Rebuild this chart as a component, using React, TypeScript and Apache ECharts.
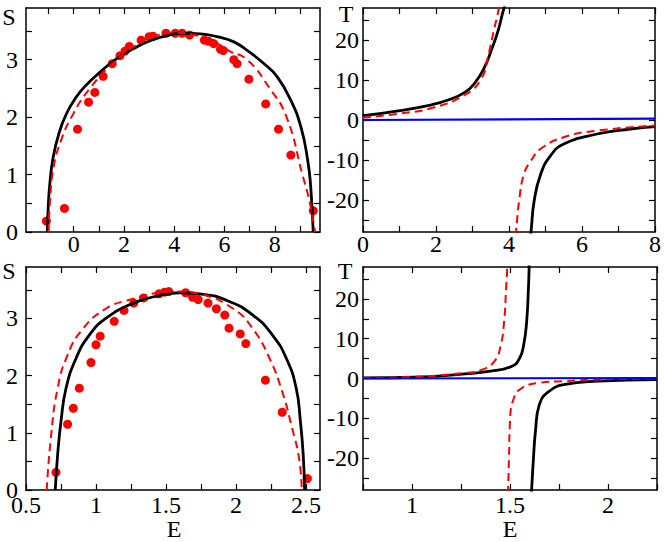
import React, { useEffect, useRef } from "react";
import * as echarts from "echarts";

// ---------- Tick / label values ----------
const tlTicksX = [-1, 0, 1, 2, 3, 4, 5, 6, 7, 8, 9];
const tlLabelsX = [0, 2, 4, 6, 8];
const sTicksY = [0, 0.5, 1, 1.5, 2, 2.5, 3, 3.5];
const sLabelsY = [0, 1, 2, 3];
const trTicksX = [0, 1, 2, 3, 4, 5, 6, 7, 8];
const trLabelsX = [0, 2, 4, 6, 8];
const tTicksY = [-25, -20, -15, -10, -5, 0, 5, 10, 15, 20, 25];
const tLabelsY = [-20, -10, 0, 10, 20];
const blTicksX = [0.5, 0.75, 1, 1.25, 1.5, 1.75, 2, 2.25, 2.5];
const blLabelsX = [0.5, 1, 1.5, 2, 2.5];
const brTicksX = [0.75, 1, 1.25, 1.5, 1.75, 2, 2.25];
const brLabelsX = [1, 1.5, 2];

// ---------- Top-left: S(E) ----------
const tlBlackE = [-1.05, -1.02, -0.95, -0.82, -0.6, -0.3, 0.1, 0.5, 1.04, 1.71, 2.37, 3.04, 3.71, 4.3, 5.04, 5.7, 6.37, 7.0, 7.6, 8.1, 8.64, 9.04, 9.31, 9.43, 9.53];
const tlBlackS = [0, 0.4, 0.85, 1.3, 1.7, 2.05, 2.35, 2.56, 2.78, 3.02, 3.19, 3.33, 3.42, 3.46, 3.45, 3.4, 3.31, 3.13, 2.92, 2.7, 2.29, 1.83, 1.25, 0.79, 0];
const tlRedE = [-1.0, -0.95, -0.8, -0.5, -0.09, 0.64, 1.71, 2.6, 3.3, 4.0, 4.7, 5.5, 6.2, 6.9, 7.8, 8.47, 9.1, 9.4, 9.6];
const tlRedS = [0, 0.5, 1.13, 1.6, 2.0, 2.5, 3.0, 3.28, 3.42, 3.47, 3.44, 3.33, 3.15, 3.0, 2.5, 2.0, 1.0, 0.5, 0];
const tlDotE = [-1.09, -0.37, 0.15, 0.59, 0.84, 1.17, 1.53, 1.84, 2.04, 2.21, 2.68, 3.0, 3.15, 3.67, 4.04, 4.31, 4.61, 5.2, 5.37, 5.57, 5.84, 5.95, 6.37, 6.5, 6.97, 7.64, 8.15, 8.64, 9.53];
const tlDotS = [0.19, 0.41, 1.79, 2.26, 2.43, 2.71, 2.93, 3.07, 3.15, 3.23, 3.34, 3.4, 3.41, 3.46, 3.46, 3.46, 3.43, 3.34, 3.32, 3.28, 3.18, 3.16, 3.0, 2.93, 2.66, 2.23, 1.79, 1.34, 0.37];

// ---------- Top-right: T(E) ----------
const trBlackUpE = [0, 0.97, 1.88, 2.33, 2.79, 3.06, 3.33, 3.51, 3.7, 3.83, 3.9];
const trBlackUpT = [1.07, 2.3, 3.8, 5.0, 6.9, 9.2, 13.2, 17.3, 22.3, 26.9, 29];
const trRedUpE = [0, 1.0, 1.88, 2.79, 3.24, 3.42, 3.6, 3.7, 3.73];
const trRedUpT = [0.6, 1.6, 2.98, 6.3, 10.3, 15.7, 23, 26.9, 29];
const trBlackLoE = [4.58, 4.6, 4.69, 4.87, 5.14, 5.5, 6.41, 7.32, 8];
const trBlackLoT = [-29, -28.2, -20.2, -13.5, -8.9, -6.0, -3.5, -2.25, -1.67];
const trRedLoE = [4.17, 4.19, 4.28, 4.41, 4.6, 4.87, 5.5, 6.41, 8];
const trRedLoT = [-29, -28, -20, -13.5, -10.2, -7.2, -4.3, -2.67, -1.4];
const trBlueE = [0, 8];
const trBlueT = [0.0, 0.33];

// ---------- Bottom-left: S(E) ----------
const blBlackE = [0.709, 0.726, 0.75, 0.786, 0.857, 0.952, 1.07, 1.26, 1.45, 1.6, 1.74, 1.93, 2.12, 2.26, 2.36, 2.43, 2.46, 2.48, 2.49];
const blBlackS = [0, 0.62, 1.2, 1.78, 2.3, 2.71, 3.0, 3.26, 3.4, 3.45, 3.43, 3.32, 3.06, 2.71, 2.3, 1.78, 1.2, 0.62, 0];
const blRedE = [0.648, 0.678, 0.726, 0.797, 0.9, 1.07, 1.26, 1.45, 1.6, 1.74, 1.98, 2.12, 2.24, 2.33, 2.4, 2.45, 2.47];
const blRedS = [0, 0.92, 1.78, 2.36, 2.8, 3.17, 3.34, 3.45, 3.47, 3.43, 3.17, 2.82, 2.3, 1.72, 1.09, 0.56, 0];
const blDotE = [0.714, 0.797, 0.838, 0.881, 0.964, 1.0, 1.03, 1.13, 1.2, 1.27, 1.34, 1.45, 1.49, 1.52, 1.64, 1.69, 1.73, 1.8, 1.86, 1.92, 1.95, 2.03, 2.07, 2.21, 2.33, 2.51];
const blDotS = [0.31, 1.15, 1.43, 1.78, 2.23, 2.54, 2.69, 2.95, 3.14, 3.27, 3.36, 3.43, 3.46, 3.47, 3.45, 3.37, 3.33, 3.27, 3.17, 3.06, 2.83, 2.73, 2.56, 1.92, 1.36, 0.2];

// ---------- Bottom-right: T(E) ----------
const brBlackUpE = [0.75, 1.013, 1.27, 1.4, 1.51, 1.55, 1.57, 1.585, 1.594, 1.597, 1.598];
const brBlackUpT = [0.15, 0.32, 1.16, 1.83, 3.08, 5.2, 8.5, 14.3, 22.6, 26.8, 29];
const brRedUpE = [0.75, 1.0, 1.27, 1.36, 1.42, 1.45, 1.47, 1.48, 1.485, 1.486];
const brRedUpT = [0.15, 0.4, 1.4, 2.25, 4.3, 7.7, 14.3, 22.6, 26.8, 29];
const brBlackLoE = [1.609, 1.61, 1.62, 1.63, 1.65, 1.7, 1.78, 1.95, 2.25];
const brBlackLoT = [-29, -28.2, -19.8, -13.2, -6.5, -3.2, -1.5, -0.67, -0.25];
const brRedLoE = [1.489, 1.49, 1.495, 1.5, 1.52, 1.56, 1.65, 1.78, 1.95, 2.25];
const brRedLoT = [-29, -28.2, -19.8, -10.7, -4.9, -2.4, -1.1, -0.67, -0.25, 0];
const brBlueE = [0.75, 2.25];
const brBlueT = [0.0, 0.12];

const zip = (xs: number[], ys: number[]) => xs.map((x, i) => [x, ys[i]]);

const FONT = "Liberation Serif";
const labelRich = { a: { fontFamily: FONT, fontSize: 24, color: "#000" } };
const fmt = (v: number) => `{a|${v}}`;

function xAxis(grid: number, min: number, max: number, ticks: number[], labels: number[], pos: "bottom" | "top", margin: number) {
  return {
    type: "value",
    gridIndex: grid,
    position: pos,
    min,
    max,
    axisLine: { show: true, onZero: false, lineStyle: { color: "#000", width: 1.5 } },
    axisTick: { show: true, inside: true, length: 6, customValues: ticks, lineStyle: { color: "#000", width: 1.2 } },
    axisLabel: {
      show: pos === "bottom",
      customValues: labels,
      margin,
      fontFamily: FONT,
      fontSize: 24,
      color: "#000",
      formatter: fmt,
      rich: labelRich,
    },
    splitLine: { show: false },
  };
}

function yAxis(grid: number, min: number, max: number, ticks: number[], labels: number[], pos: "left" | "right", margin: number) {
  return {
    type: "value",
    gridIndex: grid,
    position: pos,
    min,
    max,
    axisLine: { show: true, onZero: false, lineStyle: { color: "#000", width: 1.5 } },
    axisTick: { show: true, inside: true, length: 6, customValues: ticks, lineStyle: { color: "#000", width: 1.2 } },
    axisLabel: {
      show: pos === "left",
      customValues: labels,
      margin,
      fontFamily: FONT,
      fontSize: 24,
      color: "#000",
      formatter: fmt,
      rich: labelRich,
    },
    splitLine: { show: false },
  };
}

function line(xi: number, data: number[][], color: string, width: number, dashed: boolean) {
  return {
    type: "line",
    xAxisIndex: xi,
    yAxisIndex: xi,
    data,
    showSymbol: false,
    symbol: "none",
    smooth: 0.5,
    lineStyle: { color, width, type: dashed ? [8, 5] : "solid" },
  };
}

function dots(xi: number, data: number[][]) {
  return {
    type: "scatter",
    xAxisIndex: xi,
    yAxisIndex: xi,
    data,
    symbol: "circle",
    symbolSize: 9,
    itemStyle: { color: "#ff0000", opacity: 1 },
  };
}

export default function App() {
  const ref = useRef<HTMLDivElement>(null);
  useEffect(() => {
    if (!ref.current) return;
    const chart = echarts.init(ref.current, null, { renderer: "svg" });
    const grids = [
      { left: 26, top: 8, width: 294, height: 224 },
      { left: 363, top: 8, width: 294, height: 224 },
      { left: 26, top: 267, width: 294, height: 223 },
      { left: 363, top: 267, width: 294, height: 223 },
    ];
    const titleStyle = { font: `24px 'Liberation Serif', serif`, fill: "#000", align: "center" };
    const option = {
      animation: false,
      backgroundColor: "#fff",
      textStyle: { fontFamily: FONT },
      grid: grids,
      xAxis: [
        xAxis(0, -1.9, 9.8, tlTicksX, tlLabelsX, "bottom", 0),
        xAxis(1, 0, 8, trTicksX, trLabelsX, "bottom", 0),
        xAxis(2, 0.5, 2.6, blTicksX, blLabelsX, "bottom", 3),
        xAxis(3, 0.75, 2.25, brTicksX, brLabelsX, "bottom", 3),
        xAxis(0, -1.9, 9.8, tlTicksX, tlLabelsX, "top", 0),
        xAxis(1, 0, 8, trTicksX, trLabelsX, "top", 0),
        xAxis(2, 0.5, 2.6, blTicksX, blLabelsX, "top", 0),
        xAxis(3, 0.75, 2.25, brTicksX, brLabelsX, "top", 0),
      ],
      yAxis: [
        yAxis(0, 0, 3.9, sTicksY, sLabelsY, "left", 8),
        yAxis(1, -28, 28, tTicksY, tLabelsY, "left", 4),
        yAxis(2, 0, 3.9, sTicksY, sLabelsY, "left", 8),
        yAxis(3, -28, 28, tTicksY, tLabelsY, "left", 4),
        yAxis(0, 0, 3.9, sTicksY, sLabelsY, "right", 0),
        yAxis(1, -28, 28, tTicksY, tLabelsY, "right", 0),
        yAxis(2, 0, 3.9, sTicksY, sLabelsY, "right", 0),
        yAxis(3, -28, 28, tTicksY, tLabelsY, "right", 0),
      ],
      series: [
        line(0, zip(tlBlackE, tlBlackS), "#000", 2.8, false),
        line(0, zip(tlRedE, tlRedS), "#ff0000", 2, true),
        dots(0, zip(tlDotE, tlDotS)),

        line(1, zip(trBlackUpE, trBlackUpT), "#000", 2.8, false),
        line(1, zip(trBlackLoE, trBlackLoT), "#000", 2.8, false),
        line(1, zip(trRedUpE, trRedUpT), "#ff0000", 2, true),
        line(1, zip(trRedLoE, trRedLoT), "#ff0000", 2, true),
        line(1, zip(trBlueE, trBlueT), "#0000ff", 2.2, false),

        line(2, zip(blBlackE, blBlackS), "#000", 2.8, false),
        line(2, zip(blRedE, blRedS), "#ff0000", 2, true),
        dots(2, zip(blDotE, blDotS)),

        line(3, zip(brBlackUpE, brBlackUpT), "#000", 2.8, false),
        line(3, zip(brBlackLoE, brBlackLoT), "#000", 2.8, false),
        line(3, zip(brRedUpE, brRedUpT), "#ff0000", 2, true),
        line(3, zip(brRedLoE, brRedLoT), "#ff0000", 2, true),
        line(3, zip(brBlueE, brBlueT), "#0000ff", 2.2, false),
      ],
      graphic: [
        { type: "text", x: 9, y: 5, style: { ...titleStyle, text: "S" } },
        { type: "text", x: 346, y: 2, style: { ...titleStyle, text: "T" } },
        { type: "text", x: 9, y: 259, style: { ...titleStyle, text: "S" } },
        { type: "text", x: 345, y: 259, style: { ...titleStyle, text: "T" } },
        { type: "text", x: 174, y: 517, style: { ...titleStyle, text: "E" } },
        { type: "text", x: 510, y: 517, style: { ...titleStyle, text: "E" } },
      ],
    };
    chart.setOption(option as any);
    return () => chart.dispose();
  }, []);
  return (
    <div
      ref={ref}
      style={{ position: "fixed", left: 0, top: 0, width: 664, height: 542, background: "#fff" }}
    />
  );
}
